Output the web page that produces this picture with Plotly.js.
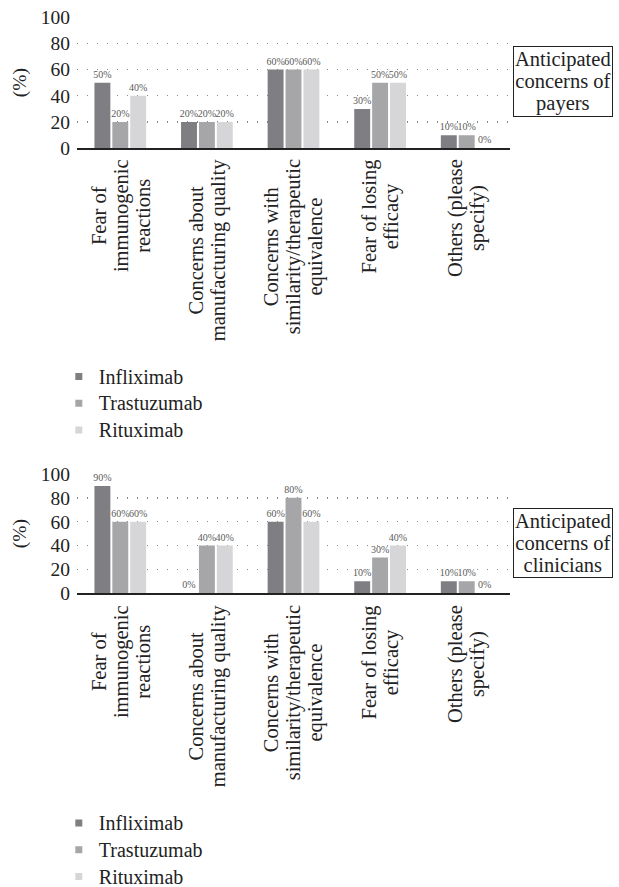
<!DOCTYPE html>
<html>
<head>
<meta charset="utf-8">
<script src="https://cdn.plot.ly/plotly-3.0.1.min.js"></script>
<style>html,body{margin:0;padding:0;background:#fff;}#chart{width:619px;height:887px;}</style>
</head>
<body>
<div id="chart"></div>
<script>
// ---- data ----
const categories = ["Fear of immunogenic reactions", "Concerns about manufacturing quality", "Concerns with similarity/therapeutic equivalence", "Fear of losing efficacy", "Others (please specify)"];
const categoryLabels = ["Fear of<br>immunogenic<br>reactions", "Concerns about<br>manufacturing quality", "Concerns with<br>similarity/therapeutic<br>equivalence", "Fear of losing<br>efficacy", "Others (please<br>specify)"];
const seriesNames = ["Infliximab", "Trastuzumab", "Rituximab"];
const payersInfliximab = [50, 20, 60, 30, 10];
const payersTrastuzumab = [20, 20, 60, 50, 10];
const payersRituximab = [40, 20, 60, 50, 0];
const cliniciansInfliximab = [90, 0, 60, 10, 10];
const cliniciansTrastuzumab = [60, 40, 80, 30, 10];
const cliniciansRituximab = [60, 40, 60, 40, 0];
const yTicks = [0, 20, 40, 60, 80, 100];
const panelTitles = ["Anticipated<br>concerns of<br>payers", "Anticipated<br>concerns of<br>clinicians"];

// ---- style ----
const colors = ["#7f7f83", "#a6a6a9", "#d6d6d8"];
const FONT = "'Liberation Serif', 'DejaVu Serif', serif";
const W = 619, H = 887;
const px2y = p => 1 - p / H;
// glyph size larger than the line-spacing base size
const big = (s, px) => s.split("<br>").map(l => "<span style=\"font-size:" + px + "px\">" + l + "</span>").join("<br>");

const payers = [payersInfliximab, payersTrastuzumab, payersRituximab];
const clinicians = [cliniciansInfliximab, cliniciansTrastuzumab, cliniciansRituximab];

const traces = [];
function addBars(sets, xa, ya) {
  sets.forEach((vals, i) => {
    traces.push({
      type: "bar", x: categories, y: vals, name: seriesNames[i],
      xaxis: xa, yaxis: ya, showlegend: false,
      marker: {color: colors[i], line: {width: 0}},
      texttemplate: "%{y}%", textposition: "outside", cliponaxis: false,
      constraintext: "none",
      textfont: {family: FONT, size: 10, color: "#5a5a5a"},
      hoverinfo: "skip"
    });
  });
}
addBars(payers, "x", "y");
addBars(clinicians, "x2", "y2");
// legend entries (small square markers)
["legend", "legend2"].forEach((lg, k) => {
  seriesNames.forEach((n, i) => {
    traces.push({
      type: "scatter", mode: "markers", x: [null], y: [null], name: big(n, 20),
      xaxis: k === 0 ? "x" : "x2", yaxis: k === 0 ? "y" : "y2",
      legend: lg, showlegend: true,
      marker: {symbol: "square", size: 7, color: colors[i]}
    });
  });
});

const yaxisBase = {
  range: [0, 100], tickvals: yTicks, ticks: "", showline: false, zeroline: false,
  showgrid: true, gridcolor: "#8a8a8a", gridwidth: 1.3, griddash: "1px,9px",
  tickfont: {family: FONT, size: 19.5, color: "#222"}, ticklabelstandoff: 6,
  title: {text: "(%)", font: {family: FONT, size: 19.5, color: "#222"}, standoff: 8},
  fixedrange: true
};
const xaxisBase = {
  type: "category", categoryarray: categories, showticklabels: false, ticks: "",
  showgrid: false, zeroline: false, showline: true, linecolor: "#222", linewidth: 1.5,
  range: [-0.5, 4.5], fixedrange: true
};

const annotations = [];
[["x", "y", -9], ["x2", "y2", -10]].forEach(([xa, ya, ys]) => {
  categories.forEach((c, i) => {
    annotations.push({
      text: big(categoryLabels[i], 20.5), x: c, xref: xa, y: 0, yref: ya + " domain",
      xanchor: "center", yanchor: "top", yshift: ys, textangle: -90, align: "center",
      showarrow: false, font: {family: FONT, size: 17, color: "#222"}
    });
  });
});
[[px2y(81.5)], [px2y(543)]].forEach(([yy], k) => {
  annotations.push({
    text: big(panelTitles[k], 20.5), xref: "paper", yref: "paper", x: 1.006, y: yy,
    xanchor: "left", yanchor: "middle", showarrow: false, align: "center",
    bordercolor: "#222", borderwidth: 1, borderpad: 1,
    font: {family: FONT, size: 17, color: "#222"}
  });
});

const legendBase = {
  orientation: "v", xref: "paper", yref: "paper", x: -0.042, xanchor: "left", yanchor: "top",
  font: {family: FONT, size: 18.3, color: "#222"}, bgcolor: "rgba(0,0,0,0)", borderwidth: 0,
  tracegroupgap: 0, itemclick: false, itemdoubleclick: false
};

const layout = {
  width: W, height: H, margin: {l: 77, r: 109, t: 0, b: 0, autoexpand: false},
  paper_bgcolor: "#fff", plot_bgcolor: "#fff", showlegend: true,
  barmode: "group", bargap: 0.38, bargroupgap: 0.11,
  xaxis: Object.assign({}, xaxisBase, {anchor: "y"}),
  xaxis2: Object.assign({}, xaxisBase, {anchor: "y2"}),
  yaxis: Object.assign({}, yaxisBase, {domain: [px2y(148.3), px2y(17)], anchor: "x"}),
  yaxis2: Object.assign({}, yaxisBase, {domain: [px2y(593.3), px2y(474)], anchor: "x2"}),
  legend: Object.assign({}, legendBase, {y: px2y(358)}),
  legend2: Object.assign({}, legendBase, {y: px2y(804.5)}),
  annotations: annotations
};

Plotly.newPlot("chart", traces, layout, {staticPlot: true, displayModeBar: false});
</script>
</body>
</html>
